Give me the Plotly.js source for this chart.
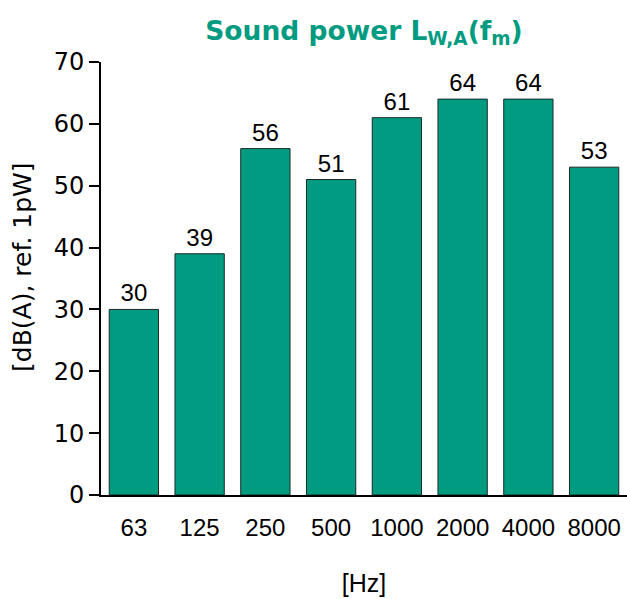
<!DOCTYPE html>
<html><head><meta charset="utf-8">
<script src="https://cdn.plot.ly/plotly-3.0.1.min.js"></script>
<style>html,body{margin:0;padding:0;background:#fff}</style>
</head><body>
<div id="chart" style="width:627px;height:599px"></div>
<script>
const categories = ["63","125","250","500","1000","2000","4000","8000"];
const values = [30,39,56,51,61,64,64,53];
const yTicks = [0,10,20,30,40,50,60,70];
const titleText = "Sound power L<sub>W,A</sub>(f<sub>m</sub>)";
const xTitle = "[Hz]";
const yTitle = "[dB(A), ref. 1pW]";

const trace = {
  type: "bar",
  x: categories,
  y: values,
  text: values.map(String),
  textposition: "outside",
  cliponaxis: false,
  textfont: {family: "Liberation Sans, Arial, sans-serif", size: 24, color: "#000"},
  marker: {color: "#009B80", line: {color: "#1a2a26", width: 1}},
  hoverinfo: "none"
};

const layout = {
  width: 627, height: 599,
  margin: {l: 101, r: 0, t: 62, b: 104},
  paper_bgcolor: "#fff", plot_bgcolor: "#fff",
  bargap: 0.25,
  showlegend: false,
  title: {
    text: titleText,
    font: {family: "DejaVu Sans, Verdana, sans-serif", size: 26.5, color: "#009B80", weight: "bold"},
    xref: "paper", x: 0.5, xanchor: "center", y: 0.949, yanchor: "middle"
  },
  xaxis: {
    type: "category",
    showline: true, linecolor: "#000", linewidth: 2,
    ticks: "", ticklabelstandoff: 10,
    tickfont: {family: "Liberation Sans, Arial, sans-serif", size: 24, color: "#000"},
    title: {text: xTitle, font: {family: "Liberation Sans, Arial, sans-serif", size: 25, color: "#000"}, standoff: 35},
    showgrid: false, zeroline: false, fixedrange: true
  },
  yaxis: {
    range: [0, 70],
    tickvals: yTicks,
    showline: true, linecolor: "#000", linewidth: 2,
    ticks: "outside", ticklen: 10, tickwidth: 2, tickcolor: "#000",
    tickfont: {family: "DejaVu Sans, Verdana, sans-serif", size: 24, color: "#000"},
    showgrid: false, zeroline: false, fixedrange: true
  },
  annotations: [{
    text: yTitle, textangle: -90, showarrow: false,
    xref: "paper", yref: "paper", x: -0.1483, y: 0.5266,
    xanchor: "center", yanchor: "middle",
    font: {family: "DejaVu Sans, Verdana, sans-serif", size: 25, color: "#000"}
  }]
};

Plotly.newPlot("chart", [trace], layout, {staticPlot: true, displayModeBar: false});
</script>
</body></html>
